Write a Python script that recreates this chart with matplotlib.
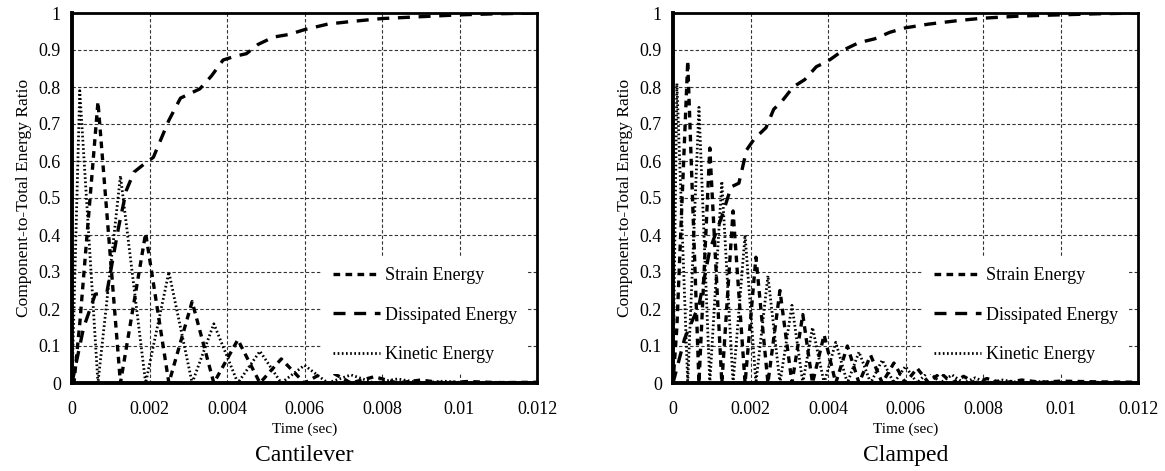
import matplotlib

matplotlib.use("Agg")
import matplotlib.pyplot as plt

plt.rcParams["font.family"] = ["Liberation Serif", "DejaVu Serif"]

# ---- data (time in sec, ratio 0..1) ----------------------------------------
cant_strain_t = [0, 0.00005, 0.0002, 0.00067, 0.00125, 0.0019, 0.0025, 0.0031,
                 0.00366, 0.00428, 0.00485, 0.0054, 0.006, 0.0066, 0.0072,
                 0.0078, 0.0084, 0.009, 0.0096, 0.0102, 0.011, 0.012]
cant_strain = [0, 0.0, 0.16, 0.76, 0.0, 0.405, 0.0, 0.22, 0.0, 0.117, 0.0,
               0.065, 0.0, 0.035, 0.0, 0.017, 0.0, 0.008, 0.0, 0.004, 0.001, 0.002]

cant_diss_t = [0, 0.0003, 0.0006, 0.0009, 0.0012, 0.0014, 0.0016, 0.0019,
               0.0021, 0.0025, 0.0028, 0.003, 0.0033, 0.0036, 0.0039, 0.0042,
               0.0045, 0.0048, 0.0052, 0.0056, 0.006, 0.0066, 0.0072, 0.008,
               0.009, 0.01, 0.011, 0.012]
cant_diss = [0, 0.15, 0.24, 0.245, 0.42, 0.52, 0.57, 0.595, 0.61, 0.71, 0.77,
             0.78, 0.795, 0.83, 0.873, 0.883, 0.89, 0.915, 0.935, 0.942, 0.955,
             0.97, 0.977, 0.985, 0.99, 0.995, 0.998, 1.0]

cant_kin_t = [0, 0.0002, 0.00067, 0.00125, 0.0019, 0.0025, 0.0031, 0.00366,
              0.00428, 0.00485, 0.0054, 0.006, 0.0066, 0.0072, 0.0078, 0.0084,
              0.009, 0.0096, 0.0102, 0.011, 0.012]
cant_kin = [0, 0.79, 0.0, 0.56, 0.0, 0.30, 0.0, 0.16, 0.0, 0.086, 0.0, 0.048,
            0.0, 0.022, 0.0, 0.011, 0.0, 0.005, 0.0, 0.002, 0.001]

clam_strain_t = [0, 0.0001, 0.00038, 0.00067, 0.00095, 0.00126, 0.00155,
                 0.00186, 0.00214, 0.00245, 0.00276, 0.00307, 0.00335, 0.0036,
                 0.0039, 0.0042, 0.0045, 0.0048, 0.0051, 0.0054, 0.0057, 0.006,
                 0.0063, 0.0066, 0.0069, 0.0072, 0.0075, 0.0078, 0.0081, 0.0085,
                 0.009, 0.0095, 0.01, 0.011, 0.012]
clam_strain = [0, 0.15, 0.87, 0.0, 0.635, 0.0, 0.465, 0.0, 0.34, 0.0, 0.25, 0.0,
               0.185, 0.0, 0.13, 0.0, 0.10, 0.0, 0.075, 0.0, 0.054, 0.0, 0.04,
               0.0, 0.028, 0.0, 0.018, 0.0, 0.012, 0.0, 0.008, 0.002, 0.005,
               0.003, 0.002]

clam_diss_t = [0, 0.0003, 0.00067, 0.00095, 0.00126, 0.0015, 0.0017, 0.0019,
               0.0021, 0.0024, 0.0026, 0.0028, 0.0031, 0.0034, 0.0037, 0.004,
               0.0044, 0.0048, 0.0052, 0.0056, 0.006, 0.0066, 0.0074, 0.008,
               0.009, 0.01, 0.011, 0.012]
clam_diss = [0, 0.12, 0.21, 0.36, 0.45, 0.53, 0.54, 0.63, 0.66, 0.69, 0.74,
             0.76, 0.80, 0.82, 0.855, 0.87, 0.90, 0.92, 0.93, 0.948, 0.96, 0.97,
             0.98, 0.986, 0.992, 0.995, 0.998, 1.0]

clam_kin_t = [0, 0.0001, 0.00038, 0.00067, 0.00095, 0.00126, 0.00155, 0.00186,
              0.00214, 0.00245, 0.00276, 0.00307, 0.00335, 0.0036, 0.0039,
              0.0042, 0.0045, 0.0048, 0.0051, 0.0054, 0.0057, 0.006, 0.0063,
              0.0066, 0.0069, 0.0072, 0.0075, 0.0078, 0.0081, 0.0085, 0.009,
              0.0095, 0.01, 0.011, 0.012]
clam_kin = [0, 0.81, 0.0, 0.745, 0.0, 0.545, 0.0, 0.40, 0.0, 0.29, 0.0, 0.21,
            0.0, 0.15, 0.0, 0.11, 0.0, 0.084, 0.0, 0.062, 0.0, 0.045, 0.0,
            0.032, 0.0, 0.022, 0.0, 0.014, 0.0, 0.008, 0.0, 0.004, 0.001,
            0.002, 0.001]

x_ticks = [0, 0.002, 0.004, 0.006, 0.008, 0.01, 0.012]
x_tick_labels = ["0", "0.002", "0.004", "0.006", "0.008", "0.01", "0.012"]
y_ticks = [0, 0.1, 0.2, 0.3, 0.4, 0.5, 0.6, 0.7, 0.8, 0.9, 1.0]
y_tick_labels = ["0", "0.1", "0.2", "0.3", "0.4", "0.5", "0.6", "0.7", "0.8", "0.9", "1"]

panels = [
    ("Cantilever", (cant_strain_t, cant_strain), (cant_diss_t, cant_diss), (cant_kin_t, cant_kin)),
    ("Clamped", (clam_strain_t, clam_strain), (clam_diss_t, clam_diss), (clam_kin_t, clam_kin)),
]

W, H = 1165, 471
fig = plt.figure(figsize=(W / 100, H / 100), dpi=100)
lefts = [72, 673]

for left, (name, strain, diss, kin) in zip(lefts, panels):
    ax = fig.add_axes([left / W, (H - 383) / H, 465 / W, 370 / H])
    ax.plot(*strain, color="black", lw=2.4, ls=(0, (2.0, 1.6)), label="Strain Energy")
    ax.plot(*diss, color="black", lw=2.4, ls=(0, (3.6, 2.6)), label="Dissipated Energy")
    ax.plot(*kin, color="black", lw=2.0, ls=(0, (0.6, 0.9)), label="Kinetic Energy")

    ax.set_xlim(0, 0.012)
    ax.set_ylim(0, 1)
    ax.set_xticks(x_ticks)
    ax.set_xticklabels(x_tick_labels)
    ax.set_yticks(y_ticks)
    ax.set_yticklabels(y_tick_labels)
    ax.tick_params(length=0, labelsize=13)
    ax.tick_params(axis="x", pad=13)
    ax.tick_params(axis="y", pad=8)
    ax.grid(True, color="0.2", lw=0.8, ls=(0, (3, 2)))
    ax.set_axisbelow(True)
    for side in ("top", "right"):
        ax.spines[side].set_linewidth(2.0)
    for side in ("left", "bottom"):
        ax.spines[side].set_linewidth(2.8)

    ax.set_xlabel("Time (sec)", fontsize=11, labelpad=3)
    ax.set_ylabel("Component-to-Total Energy Ratio", fontsize=12.5, labelpad=5)
    ax.text(0.5, -0.197, name, transform=ax.transAxes, ha="center", va="center", fontsize=17)

    ax.legend(loc="lower right", bbox_to_anchor=(1.0, 0.0), fontsize=13,
              frameon=True, facecolor="white", edgecolor="none", framealpha=1,
              handlelength=2.6, handletextpad=0.3, labelspacing=1.25,
              borderpad=0.6, fancybox=False)

fig.savefig("out.png", dpi=100)
